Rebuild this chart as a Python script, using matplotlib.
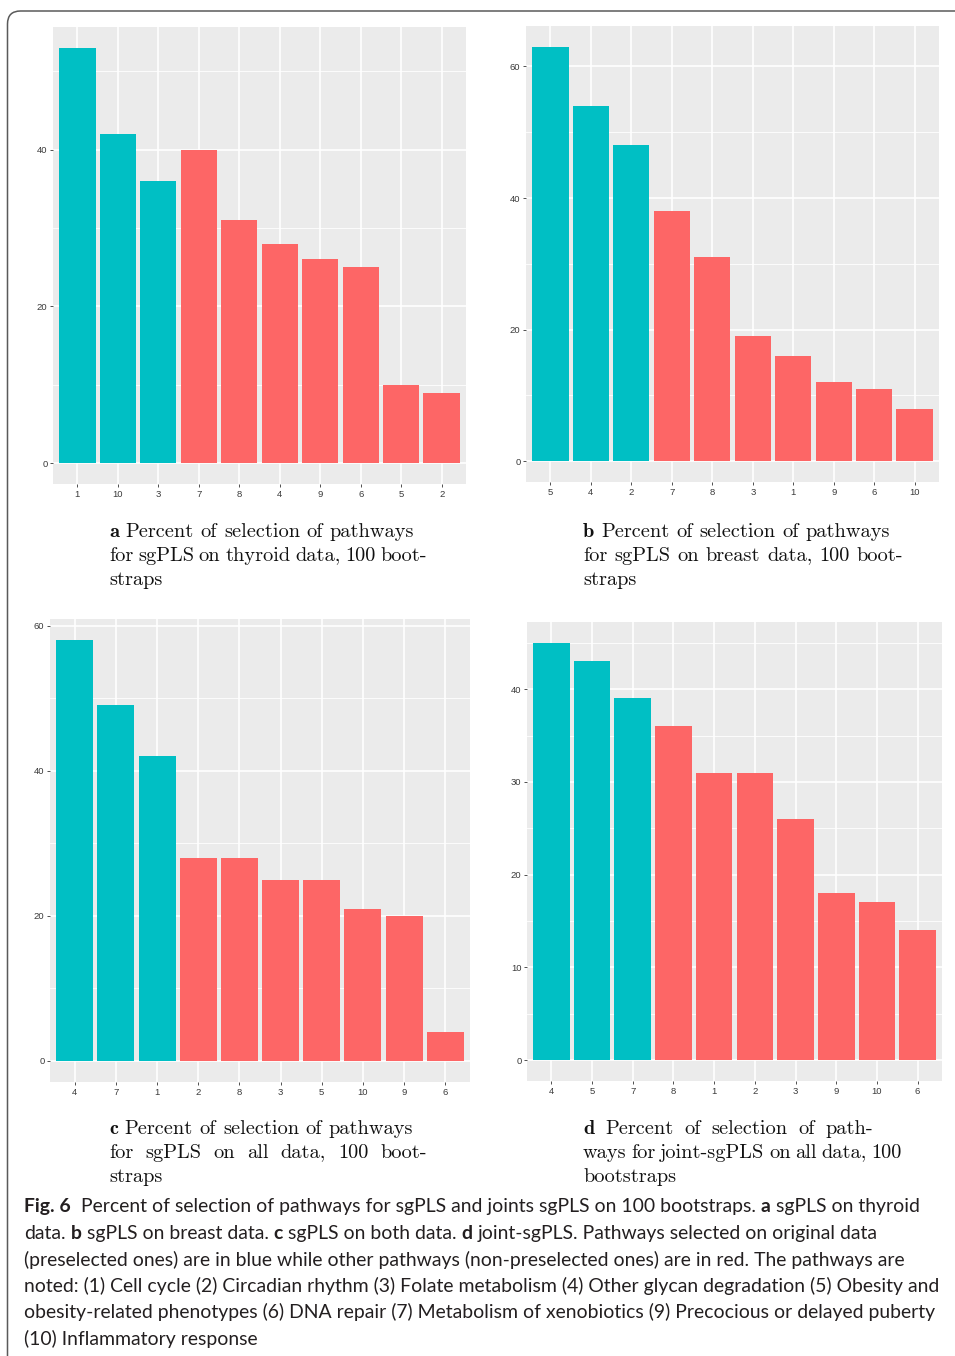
import matplotlib

matplotlib.use("Agg")

import matplotlib.pyplot as plt
from matplotlib.patches import FancyBboxPatch
from matplotlib.ticker import MultipleLocator

FIG_W = 955
FIG_H = 1356

PRESELECTED_COLOR = "#00BFC4"
OTHER_COLOR = "#FD6666"
PANEL_BG = "#EBEBEB"

# pathway ids in plotting order and percent of selection per panel
THYROID_LABELS = ["1", "10", "3", "7", "8", "4", "9", "6", "5", "2"]
THYROID_VALUES = [53, 42, 36, 40, 31, 28, 26, 25, 10, 9]

BREAST_LABELS = ["5", "4", "2", "7", "8", "3", "1", "9", "6", "10"]
BREAST_VALUES = [63, 54, 48, 38, 31, 19, 16, 12, 11, 8]

ALL_LABELS = ["4", "7", "1", "2", "8", "3", "5", "10", "9", "6"]
ALL_VALUES = [58, 49, 42, 28, 28, 25, 25, 21, 20, 4]

JOINT_LABELS = ["4", "5", "7", "8", "1", "2", "3", "9", "10", "6"]
JOINT_VALUES = [45, 43, 39, 36, 31, 31, 26, 18, 17, 14]

# first three pathways of every panel were selected on the original data
PRESELECTED = [True, True, True, False, False, False, False, False, False, False]

SUBCAPTIONS = {
    "a": [
        "Percent of selection of pathways",
        "for sgPLS on thyroid data, 100 boot-",
        "straps",
    ],
    "b": [
        "Percent of selection of pathways",
        "for sgPLS on breast data, 100 boot-",
        "straps",
    ],
    "c": [
        "Percent of selection of pathways",
        "for sgPLS on all data, 100 boot-",
        "straps",
    ],
    "d": [
        "Percent of selection of path-",
        "ways for joint-sgPLS on all data, 100",
        "bootstraps",
    ],
}

CAPTION_LINES = [
    [("Fig. 6", True), ("Percent of selection of pathways for sgPLS and joints sgPLS on 100 bootstraps.", False),
     ("a", True), ("sgPLS on thyroid", False)],
    [("data.", False), ("b", True), ("sgPLS on breast data.", False), ("c", True),
     ("sgPLS on both data.", False), ("d", True), ("joint-sgPLS. Pathways selected on original data", False)],
    [("(preselected ones) are in blue while other pathways (non-preselected ones) are in red. The pathways are", False)],
    [("noted: (1) Cell cycle (2) Circadian rhythm (3) Folate metabolism (4) Other glycan degradation (5) Obesity and", False)],
    [("obesity-related phenotypes (6) DNA repair (7) Metabolism of xenobiotics (9) Precocious or delayed puberty", False)],
    [("(10) Inflammatory response", False)],
]


def px_x(x):
    return x / FIG_W


def px_y(y):
    return 1 - y / FIG_H


def add_panel(fig, box, labels, values, major, minor):

    left, top, right, bottom = box

    ax = fig.add_axes(
        [
            px_x(left),
            px_y(bottom),
            (right - left) / FIG_W,
            (bottom - top) / FIG_H,
        ]
    )

    colors = [
        PRESELECTED_COLOR if pre else OTHER_COLOR
        for pre in PRESELECTED
    ]

    positions = list(range(len(labels)))

    ax.bar(
        positions,
        values,
        width=0.9,
        color=colors,
        linewidth=0,
        zorder=2,
    )

    top_value = max(values)

    ax.set_xlim(-0.6, len(labels) - 0.4)
    ax.set_ylim(-0.05 * top_value, 1.05 * top_value)

    ax.set_xticks(positions)
    ax.set_xticklabels(labels)

    ax.yaxis.set_major_locator(MultipleLocator(major))
    ax.yaxis.set_minor_locator(MultipleLocator(minor))

    ax.set_facecolor(PANEL_BG)

    for spine in ax.spines.values():
        spine.set_visible(False)

    ax.set_axisbelow(True)

    ax.grid(which="major", color="white", linewidth=1.2)
    ax.grid(which="minor", axis="y", color="white", linewidth=0.6)

    ax.tick_params(
        which="major",
        length=2.5,
        width=0.6,
        color="#333333",
        labelsize=6.8,
        labelcolor="#3A3A3A",
        pad=1.5,
    )

    ax.tick_params(which="minor", length=0)

    for lab in ax.get_xticklabels() + ax.get_yticklabels():
        lab.set_family("Liberation Sans")

    return ax


def text_width(fig, renderer, s, **kw):

    t = fig.text(0, 0, s, **kw)
    width = t.get_window_extent(renderer).width
    t.remove()

    return width


def draw_subcaption(fig, renderer, letter, lines, x, baselines, size, widths):

    serif = dict(fontsize=size, color="#111111", va="baseline", ha="left")

    space = (
        text_width(fig, renderer, "x x", family="cmr10", **serif)
        - text_width(fig, renderer, "xx", family="cmr10", **serif)
    )

    for i, (line, y) in enumerate(zip(lines, baselines)):

        words = [(w, "cmr10") for w in line.split()]

        if i == 0:
            words = [(letter, "cmb10")] + words

        sizes = [
            text_width(fig, renderer, w, family=fam, **serif)
            for w, fam in words
        ]

        target = widths[i]

        if target is None or len(words) < 2:
            gap = space
        else:
            gap = (target - sum(sizes)) / (len(words) - 1)

        cursor = x

        for (w, fam), wd in zip(words, sizes):

            fig.text(px_x(cursor), px_y(y), w, family=fam, **serif)
            cursor += wd + gap


def draw_caption(fig, renderer, x, baselines, size):

    sans = dict(fontsize=size, color="#231F20", va="baseline", ha="left", family="Lato")

    space = (
        text_width(fig, renderer, "x x", **sans)
        - text_width(fig, renderer, "xx", **sans)
    )

    for line, y in zip(CAPTION_LINES, baselines):

        cursor = x

        for seg, bold in line:

            weight = "bold" if bold else "normal"

            fig.text(px_x(cursor), px_y(y), seg, fontweight=weight, **sans)

            gap = 2 * space if seg == "Fig. 6" else space
            cursor += text_width(fig, renderer, seg, fontweight=weight, **sans) + gap


fig = plt.figure(figsize=(FIG_W / 100, FIG_H / 100), dpi=100)

renderer = fig.canvas.get_renderer()

# outer frame with rounded corner, running off the right and bottom edges
frame = FancyBboxPatch(
    (0.075, -0.3),
    10.0,
    13.56 - 0.11 + 0.3,
    boxstyle="round,pad=0,rounding_size=0.13",
    transform=fig.dpi_scale_trans,
    facecolor="none",
    edgecolor="#5A5A5A",
    linewidth=1.1,
)
fig.patches.append(frame)

add_panel(fig, (53, 27, 466, 484), THYROID_LABELS, THYROID_VALUES, 20, 10)
add_panel(fig, (526, 26, 939, 482), BREAST_LABELS, BREAST_VALUES, 20, 10)
add_panel(fig, (50, 619, 470, 1082), ALL_LABELS, ALL_VALUES, 20, 10)
add_panel(fig, (527, 622, 942, 1081), JOINT_LABELS, JOINT_VALUES, 10, 5)

# serif size chosen so the first subcaption line spans ~304 px
probe = 14
natural = text_width(
    fig, renderer, "a Percent of selection of pathways", family="cmr10", fontsize=probe
)
serif_size = probe * 304 / natural

top_rows = [537, 561, 585]
bottom_rows = [1134, 1158, 1182]

draw_subcaption(fig, renderer, "a", SUBCAPTIONS["a"], 109, top_rows, serif_size, [None, 318, None])
draw_subcaption(fig, renderer, "b", SUBCAPTIONS["b"], 583, top_rows, serif_size, [None, 320, None])
draw_subcaption(fig, renderer, "c", SUBCAPTIONS["c"], 109, bottom_rows, serif_size, [None, 318, None])
draw_subcaption(fig, renderer, "d", SUBCAPTIONS["d"], 583, bottom_rows, serif_size, [290, 319, None])

# sans size chosen so the longest caption line spans ~916 px
longest = CAPTION_LINES[3][0][0]
natural = text_width(fig, renderer, longest, family="Lato", fontsize=probe)
sans_size = probe * 916 / natural

draw_caption(fig, renderer, 24, [1212, 1239, 1266, 1292, 1318, 1345], sans_size)

fig.savefig("out.png", dpi=100)
